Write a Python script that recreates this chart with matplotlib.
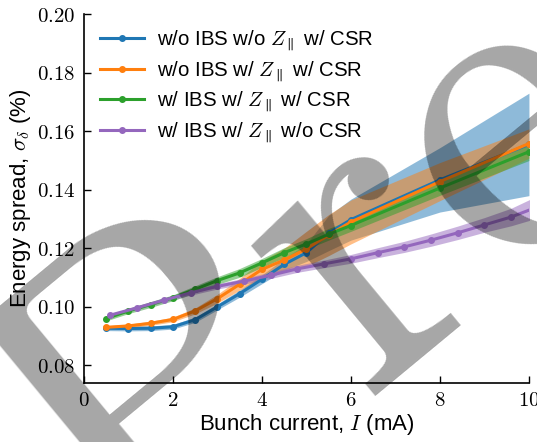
import matplotlib
matplotlib.use("Agg")
import matplotlib.pyplot as plt
import numpy as np

plt.rcParams['font.family'] = ['Liberation Sans', 'DejaVu Sans']
plt.rcParams['mathtext.fontset'] = 'cm'

# bunch current (mA)
current = [0.5, 1.0, 1.5, 2.0, 2.5, 3.0, 3.5, 4.0, 4.5, 5.0, 5.5, 6.0, 8.0, 10.0]
current_ibs_nocsr = [0.6, 1.2, 1.8, 2.4, 3.0, 3.6, 4.2, 4.8, 5.4, 6.0,
                     6.6, 7.2, 7.8, 8.4, 9.0, 9.6, 10.2]

# energy spread (%) and band half widths
noibs_noz = [0.0927, 0.0926, 0.0927, 0.0932, 0.0956, 0.1000, 0.1045, 0.1094,
             0.1145, 0.1185, 0.1252, 0.1298, 0.1434, 0.1555]
noibs_noz_err = [0.0008, 0.0008, 0.0008, 0.0008, 0.0009, 0.0010, 0.0012, 0.0015,
                 0.0020, 0.0030, 0.0060, 0.0070, 0.0110, 0.0175]

noibs_z = [0.0930, 0.0935, 0.0944, 0.0957, 0.0986, 0.1028, 0.1077, 0.1128,
           0.1160, 0.1198, 0.1245, 0.1290, 0.1428, 0.1558]
noibs_z_err = [0.0006, 0.0006, 0.0007, 0.0008, 0.0010, 0.0015, 0.0020, 0.0030,
               0.0040, 0.0060, 0.0070, 0.0075, 0.0065, 0.0050]

ibs_z = [0.0960, 0.0986, 0.1008, 0.1031, 0.1060, 0.1090, 0.1116, 0.1150,
         0.1185, 0.1215, 0.1248, 0.1278, 0.1406, 0.1530]
ibs_z_err = [0.0008, 0.0009, 0.0010, 0.0010, 0.0012, 0.0013, 0.0015, 0.0015,
             0.0017, 0.0018, 0.0020, 0.0020, 0.0025, 0.0030]

ibs_z_nocsr = [0.0972, 0.0997, 0.1023, 0.1048, 0.1070, 0.1088, 0.1108, 0.1130,
               0.1147, 0.1164, 0.1185, 0.1205, 0.1228, 0.1253, 0.1280, 0.1307, 0.1342]
ibs_z_nocsr_err = [0.0005, 0.0006, 0.0007, 0.0008, 0.0009, 0.0010, 0.0011, 0.0012,
                   0.0013, 0.0015, 0.0017, 0.0019, 0.0021, 0.0023, 0.0025, 0.0030, 0.0038]

labels = [r'w/o IBS w/o $Z_\parallel$ w/ CSR',
          r'w/o IBS w/ $Z_\parallel$ w/ CSR',
          r'w/ IBS w/ $Z_\parallel$ w/ CSR',
          r'w/ IBS w/ $Z_\parallel$ w/o CSR']
colors = ['#1f77b4', '#ff7f0e', '#2ca02c', '#9467bd']

xticks = [0, 2, 4, 6, 8, 10]
yticks = [0.08, 0.10, 0.12, 0.14, 0.16, 0.18, 0.20]

fig = plt.figure(figsize=(5.37, 4.42), dpi=100)
ax = fig.add_axes([0.156, 0.1335, 0.829, 0.8345])

series = [(current, noibs_noz, noibs_noz_err),
          (current, noibs_z, noibs_z_err),
          (current, ibs_z, ibs_z_err),
          (current_ibs_nocsr, ibs_z_nocsr, ibs_z_nocsr_err)]

for (x, y, e), c, lab in zip(series, colors, labels):
    x = np.array(x)
    y = np.array(y)
    e = np.array(e)
    ax.fill_between(x, y - e, y + e, color=c, alpha=0.5, lw=0)
    ax.plot(x, y, '-o', color=c, lw=2.2, ms=4, label=lab)

ax.set_xlim(0, 10)
ax.set_ylim(0.074, 0.20)
ax.set_xticks(xticks)
ax.set_xticklabels([f'${t}$' for t in xticks])
ax.set_yticks(yticks)
ax.set_yticklabels([f'${t:.2f}$' for t in yticks])
ax.tick_params(direction='in', length=5, width=1, labelsize=15, pad=6)
ax.spines['top'].set_visible(False)
ax.spines['right'].set_visible(False)
ax.spines['left'].set_linewidth(1.2)
ax.spines['bottom'].set_linewidth(1.2)

ax.set_xlabel(r'Bunch current, $I$ (mA)', fontsize=16, labelpad=1)
ax.set_ylabel(r'Energy spread, $\sigma_\delta$ (%)', fontsize=16, labelpad=3)

ax.legend(loc='upper left', bbox_to_anchor=(-0.004, 1.01), frameon=False,
          fontsize=14.7, handlelength=2.15, handletextpad=0.64, labelspacing=0.31)

# watermark
fig.text(0.242, -0.357, r'$\mathrm{Pre}$', fontsize=326, color='black', alpha=0.35,
         rotation=39.6, rotation_mode='anchor', ha='left', va='baseline', zorder=10)

fig.savefig('out.png', dpi=100)
